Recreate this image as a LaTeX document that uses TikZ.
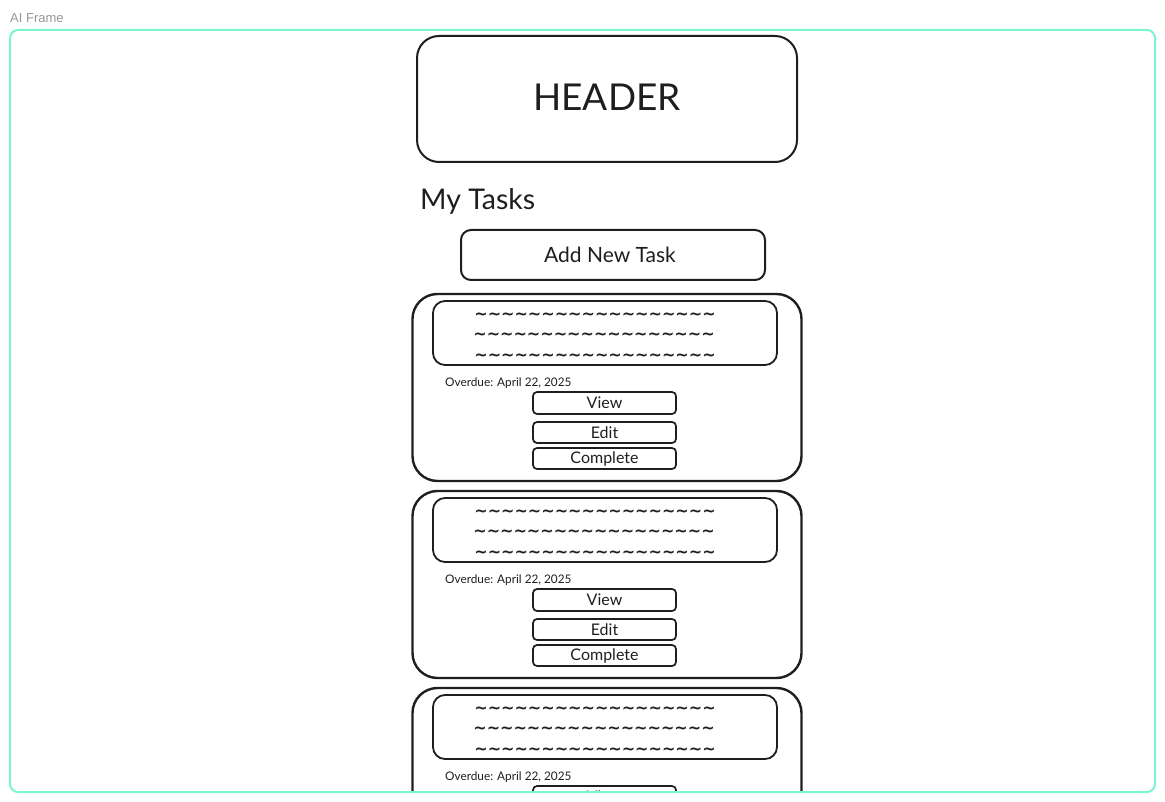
\documentclass[tikz,border=0pt]{standalone}
\usepackage{fontspec}
\setmainfont{Lato}
\newfontfamily\framefont{Liberation Sans}
\newfontfamily\wavefont{DejaVu Sans}
\usetikzlibrary{positioning,calc}

\definecolor{ink}{HTML}{1E1E1E}
\definecolor{framegreen}{RGB}{122,245,208}
\definecolor{labelgray}{RGB}{150,150,150}

\tikzset{
  sketchbox/.style={draw=ink, line width=2pt, rounded corners=#1, inner sep=0pt, text=ink},
  cardbox/.style={draw=ink, line width=2.4pt, rounded corners=25pt, minimum width=389pt, minimum height=187pt},
  notebox/.style={draw=ink, line width=1.8pt, rounded corners=12pt, minimum width=344pt, minimum height=64pt},
  btnbox/.style={draw=ink, line width=1.7pt, rounded corners=4pt, minimum width=143pt, minimum height=21pt,
    inner sep=0pt, text=ink, font=\fontsize{16}{16}\selectfont},
  wavetext/.style={text=ink, inner sep=0pt, font=\wavefont\bfseries\fontsize{16}{16}\selectfont},
}

\newcommand{\wavex}{\textasciitilde\textasciitilde\textasciitilde}
\newcommand{\waveline}{\wavex\wavex\wavex\wavex\wavex\wavex}

\begin{document}
\begin{tikzpicture}[x=1pt, y=-1pt]

  %% Background
  \useasboundingbox (0,0) rectangle (1165,802);

  % Frame label
  \node[anchor=base west, inner sep=0pt, text=labelgray, font=\framefont\fontsize{13}{13}\selectfont]
    (framelabel) at (10,23) {AI Frame};

  \begin{scope}
  \clip (11,31) rectangle (1154,791);

  % Header
  \node[sketchbox=22pt, minimum width=380pt, minimum height=126pt, font=\fontsize{37}{37}\selectfont]
    (header) at (607,99) {\raisebox{3pt}{HEADER}};

  % Title and add button
  \node[anchor=base west, inner sep=0pt, text=ink, font=\fontsize{28.5}{28.5}\selectfont]
    (title) at (420,210) {My Tasks};
  \node[sketchbox=10pt, minimum width=304pt, minimum height=50pt, font=\fontsize{21}{21}\selectfont]
    (addtask) at (613,255) {\hspace*{-6pt}Add New Task};

  % Task cards
  \foreach \i in {0,1,2} {
    \node[cardbox] (card\i) at (607, 387.5+197*\i) {};
    \node[notebox] (note\i) at (605, 333+197*\i) {};
    \node[wavetext] (wavea\i) at (595, 316+197*\i) {\waveline};
    \node[wavetext] (waveb\i) at (594, 336+197*\i) {\waveline};
    \node[wavetext] (wavec\i) at (595, 357+197*\i) {\waveline};
    \node[anchor=base west, inner sep=0pt, text=ink, font=\fontsize{11.8}{11.8}\selectfont]
      (due\i) at (445, 386+197*\i) {Overdue: April 22, 2025};
    \node[btnbox, minimum height=22pt] (view\i) at (604.5, 403+197*\i) {View};
  }
  % buttons of the two whole cards
  \foreach \i in {0,1} {
    \node[btnbox, below=6.3pt of view\i] (edit\i) {Edit};
    \node[btnbox, below=3.3pt of edit\i] (done\i) {Complete};
  }
  \end{scope}

  % Frame
  \draw[framegreen, line width=2pt, rounded corners=8pt] (10,30) rectangle (1155,792);

\end{tikzpicture}
\end{document}
